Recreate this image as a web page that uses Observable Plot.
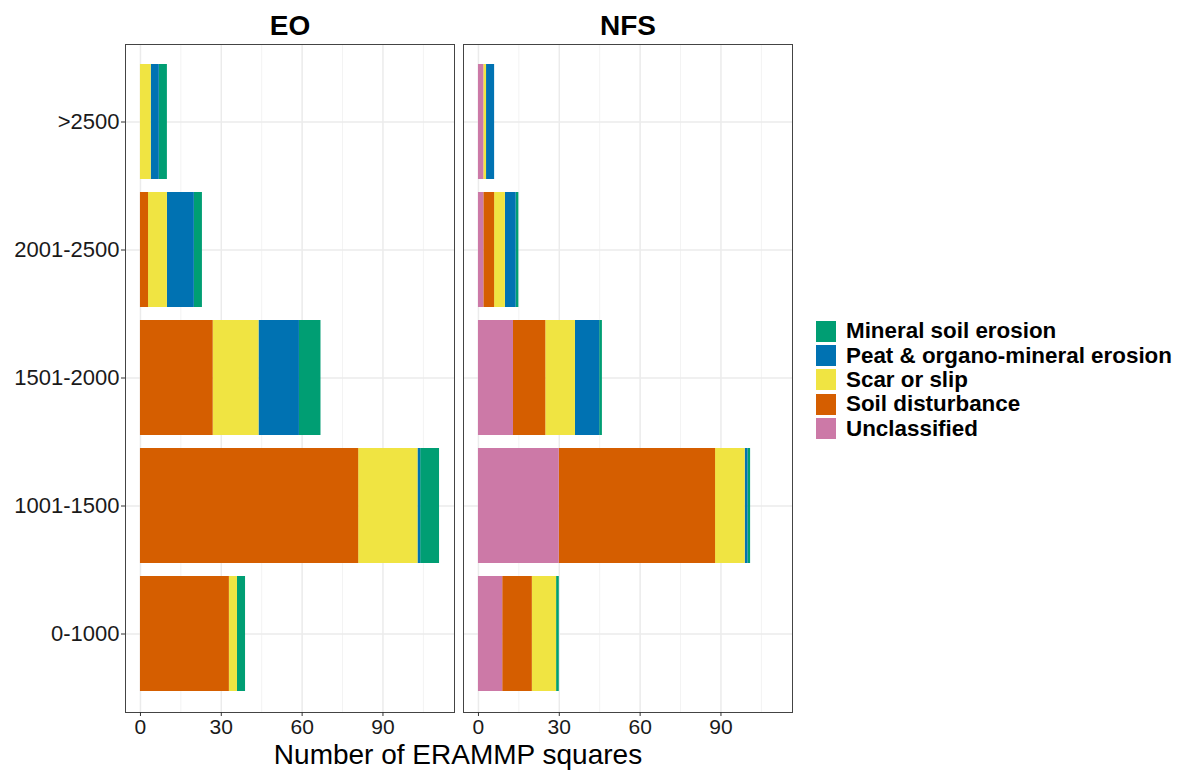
<!DOCTYPE html>
<html>
<head>
<meta charset="utf-8">
<script src="https://cdn.jsdelivr.net/npm/d3@7"></script>
<script src="https://cdn.jsdelivr.net/npm/@observablehq/plot@0.6"></script>
<style>
  body { margin: 0; background: white; }
  #wrap { position: relative; width: 1180px; height: 771px; font-family: "Liberation Sans", Arial, sans-serif; }
  #chart { position: absolute; left: 0; top: 0; }
  #xlabel { position: absolute; left: 124px; width: 668px; top: 742px; text-align: center; font-size: 28px; line-height: 26px; color: #000; }
  #legend { position: absolute; left: 816px; top: 319px; }
  .row { display: flex; align-items: center; height: 24.4px; }
  .sw { width: 20px; height: 21px; margin-right: 10px; }
  .lt { font-size: 22.4px; font-weight: bold; color: #000; white-space: nowrap; }
</style>
</head>
<body>
<div id="wrap">
  <div id="chart"></div>
  <div id="xlabel"></div>
  <div id="legend"></div>
</div>
<script>
// Categories (altitude bands), facets and damage types
const categories = ["0-1000", "1001-1500", "1501-2000", "2001-2500", ">2500"];
const sites = ["EO", "NFS"];
const types = ["Mineral soil erosion", "Peat & organo-mineral erosion", "Scar or slip", "Soil disturbance", "Unclassified"];
const typeColors = ["#009E73", "#0072B2", "#F0E442", "#D55E00", "#CC79A7"];
const xTicks = [0, 30, 60, 90];
const xMinorTicks = [15, 45, 75, 105];
const xTitle = "Number of ERAMMP squares";

// EO counts, aligned with categories
const eoMineral = [3, 7, 8, 3, 3];
const eoPeat = [0, 1, 15, 10, 3];
const eoScar = [3, 22, 17, 7, 4];
const eoSoil = [33, 81, 27, 3, 0];
const eoUnclassified = [0, 0, 0, 0, 0];

// NFS counts, aligned with categories
const nfsMineral = [1, 1, 1, 1, 0];
const nfsPeat = [0, 1, 9, 4, 3];
const nfsScar = [9, 11, 11, 4, 1];
const nfsSoil = [11, 58, 12, 4, 0];
const nfsUnclassified = [9, 30, 13, 2, 2];

const series = {
  EO: [eoMineral, eoPeat, eoScar, eoSoil, eoUnclassified],
  NFS: [nfsMineral, nfsPeat, nfsScar, nfsSoil, nfsUnclassified]
};

const data = [];
for (const site of sites) {
  types.forEach((type, ti) => {
    categories.forEach((alt, ci) => {
      const n = series[site][ti][ci];
      if (n > 0) data.push({site, type, alt, n});
    });
  });
}

// ggplot-like 5% expansion of the shared x range
const totals = d3.rollup(data, v => d3.sum(v, d => d.n), d => d.site, d => d.alt);
let maxTotal = 0;
for (const m of totals.values()) for (const v of m.values()) maxTotal = Math.max(maxTotal, v);
const pad = maxTotal * 0.05;

const stackOrder = types.slice().reverse();

const plot = Plot.plot({
  width: 800,
  height: 771,
  marginLeft: 124,
  marginRight: 8,
  marginTop: 44,
  marginBottom: 59,
  style: {fontFamily: "'Liberation Sans', Arial, sans-serif", background: "white", color: "#1a1a1a"},
  fx: {domain: sites, paddingInner: 0.0272, paddingOuter: 0, label: null},
  x: {domain: [-pad, maxTotal + pad], label: null},
  y: {domain: categories.slice().reverse(), paddingInner: 0.1, paddingOuter: 0.15, label: null},
  color: {domain: types, range: typeColors},
  marks: [
    Plot.gridX({ticks: xMinorTicks, stroke: "#f3f3f3", strokeOpacity: 1, strokeWidth: 1}),
    Plot.gridX({ticks: xTicks, stroke: "#ebebeb", strokeOpacity: 1, strokeWidth: 1.5}),
    Plot.gridY({stroke: "#ebebeb", strokeOpacity: 1, strokeWidth: 1.5}),
    Plot.barX(data, {x: "n", y: "alt", fx: "site", fill: "type", order: stackOrder}),
    Plot.frame({stroke: "#444", strokeWidth: 1}),
    Plot.axisFx({anchor: "top", label: null, tickSize: 0, tickPadding: 10, fontSize: 28, fontWeight: "bold", fill: "#000"}),
    Plot.axisY({label: null, tickSize: 4, tickPadding: 2, fontSize: 22, stroke: "#333", fill: "#1a1a1a"}),
    Plot.axisX({ticks: xTicks, label: null, tickSize: 4, tickPadding: 3, fontSize: 21, stroke: "#333", fill: "#1a1a1a"})
  ]
});
document.getElementById("chart").appendChild(plot);

document.getElementById("xlabel").textContent = xTitle;

const legend = document.getElementById("legend");
types.forEach((t, i) => {
  const row = document.createElement("div");
  row.className = "row";
  const sw = document.createElement("div");
  sw.className = "sw";
  sw.style.background = typeColors[i];
  const lt = document.createElement("div");
  lt.className = "lt";
  lt.textContent = t;
  row.appendChild(sw);
  row.appendChild(lt);
  legend.appendChild(row);
});
</script>
</body>
</html>
